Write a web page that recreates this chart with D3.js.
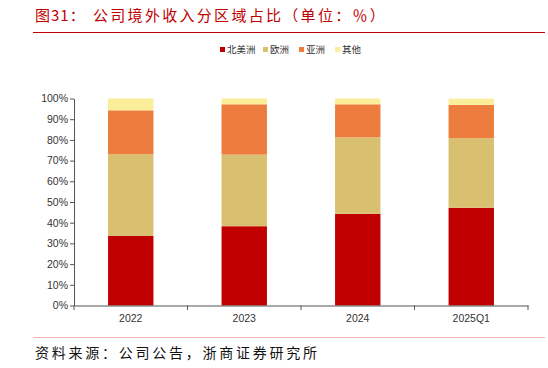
<!DOCTYPE html>
<html><head><meta charset="utf-8">
<script src="https://cdn.jsdelivr.net/npm/d3@7"></script>
<style>body{margin:0;background:#fff}svg{display:block}</style>
</head><body>
<svg id="c" width="548" height="368"></svg>
<script>
const categories = ["2022", "2023", "2024", "2025Q1"];
const seriesNames = ["北美洲", "欧洲", "亚洲", "其他"];
const northAmerica = [33.6, 38.3, 44.3, 47.2];
const europe = [39.5, 34.6, 36.9, 33.6];
const asia = [21.2, 24.3, 16.0, 16.1];
const other = [5.7, 2.8, 2.8, 3.0];
const yTicks = [0, 10, 20, 30, 40, 50, 60, 70, 80, 90, 100];
const colors = ["#C00000", "#D9C070", "#ED7D3F", "#FBEE9A"];

const svg = d3.select("#c");
const cjk = "'Noto Sans CJK SC', sans-serif";

// title
svg.append("text").attr("x", 35).attr("y", 21).attr("fill", "#C00000")
  .attr("font-family", cjk).attr("font-size", 15).attr("letter-spacing", 1).text("图31：");
svg.append("text").attr("x", 93).attr("y", 21).attr("fill", "#C00000")
  .attr("font-family", cjk).attr("font-size", 15).attr("letter-spacing", 2.3)
  .text("公司境外收入分区域占比（单位：％）");
svg.append("line").attr("x1", 33).attr("x2", 545).attr("y1", 32.5).attr("y2", 32.5)
  .attr("stroke", "#C00000").attr("stroke-width", 1);

// footer
svg.append("line").attr("x1", 33).attr("x2", 545).attr("y1", 337.5).attr("y2", 337.5)
  .attr("stroke", "#F4B6B6").attr("stroke-width", 1);
svg.append("text").attr("x", 35).attr("y", 358).attr("fill", "#111")
  .attr("font-family", cjk).attr("font-size", 14).attr("letter-spacing", 2.75)
  .text("资料来源：公司公告，浙商证券研究所");

const x = d3.scaleBand().domain(categories).range([74, 528]).paddingInner(0.6).paddingOuter(0.3);
const y = d3.scaleLinear().domain([0, 100]).range([305.5, 98.5]);

const table = categories.map((c, i) => ({cat: c, "北美洲": northAmerica[i], "欧洲": europe[i], "亚洲": asia[i], "其他": other[i]}));
const stacked = d3.stack().keys(seriesNames)(table);

const g = svg.append("g");
stacked.forEach((s, si) => {
  g.selectAll(null).data(s).enter().append("rect")
    .attr("x", d => x(d.data.cat))
    .attr("width", x.bandwidth())
    .attr("y", d => y(Math.min(d[1], 100)))
    .attr("height", d => y(d[0]) - y(Math.min(d[1], 100)))
    .attr("fill", colors[si]);
});

// y axis
const yAxis = svg.append("g").attr("transform", "translate(74,0)")
  .call(d3.axisLeft(y).tickValues(yTicks).tickFormat(d => d + "%").tickSize(4).tickSizeOuter(0));
yAxis.select(".domain").attr("stroke", "#555");
yAxis.selectAll(".tick line").attr("stroke", "#555");
yAxis.selectAll("text").attr("font-family", "'Liberation Sans', Arial, sans-serif").attr("font-size", 10.5).attr("fill", "#333").attr("x", -6);

// x axis
const xAxis = svg.append("g").attr("transform", "translate(0,305.5)")
  .call(d3.axisBottom(x).tickSize(0).tickSizeOuter(0));
xAxis.select(".domain").attr("stroke", "#555");
xAxis.selectAll("text").attr("font-family", "'Liberation Sans', Arial, sans-serif").attr("font-size", 10.5).attr("fill", "#333").attr("dy", "1.25em");
// category separator ticks
const step = x.step();
const sepPos = categories.map(c => x(c) - (step - x.bandwidth()) / 2).concat([x(categories[categories.length - 1]) + x.bandwidth() + (step - x.bandwidth()) / 2]);
svg.append("g").selectAll("line").data(sepPos).enter().append("line")
  .attr("x1", d => d).attr("x2", d => d).attr("y1", 305.5).attr("y2", 310)
  .attr("stroke", "#555");

// legend
const legendX = [220, 263, 299, 335];
const lg = svg.append("g");
seriesNames.forEach((n, i) => {
  lg.append("rect").attr("x", legendX[i]).attr("y", 47).attr("width", 5).attr("height", 5).attr("fill", colors[i]);
  lg.append("text").attr("x", legendX[i] + 7).attr("y", 53).attr("font-family", cjk)
    .attr("font-size", 9.5).attr("fill", "#333").text(n);
});
</script>
</body></html>
